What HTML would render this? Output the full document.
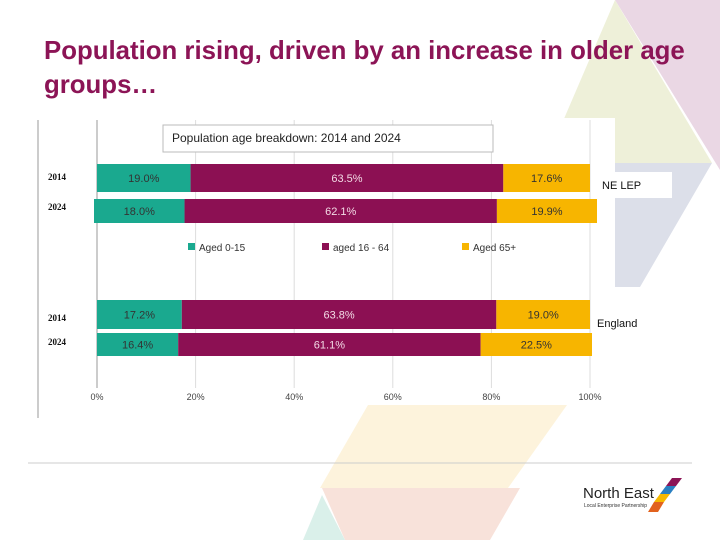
<!DOCTYPE html>
<html><head><meta charset="utf-8">
<style>
body{margin:0;width:720px;height:540px;overflow:hidden;background:#fff;font-family:"Liberation Sans",sans-serif;position:relative}
svg{position:absolute;left:0;top:0}
</style></head>
<body>
<svg width="720" height="540">
  <g>
    <polygon points="615,0 720,0 720,170" fill="#ead7e4"/>
    <polygon points="615,0 712,163 545,163" fill="#eef0d9"/>
    <polygon points="615,163 712,163 640,287 615,287" fill="#dcdfe9"/>
  </g>
  <text x="44" y="59" font-size="25.8" font-weight="bold" fill="#8c1456">Population rising, driven by an increase in older age</text>
  <text x="44" y="93" font-size="25.8" font-weight="bold" fill="#8c1456">groups…</text>
  <rect x="38" y="118" width="577" height="287" fill="#fff"/>
  <g>
    <polygon points="368,405 567,405 508,488 320,488" fill="#fdf3dc"/>
    <polygon points="322,488 520,488 490,540 345,540" fill="#f8e2da"/>
    <polygon points="303,540 322,495 345,540" fill="#daf0ea"/>
  </g>
  <line x1="38" y1="120" x2="38" y2="418" stroke="#999"/>
  <g id="grid"></g>
  <rect x="163" y="125" width="330" height="27" fill="#fff" stroke="#bbb"/>
  <text x="172" y="142" font-size="12" fill="#222">Population age breakdown: 2014 and 2024</text>
  <g id="bars"></g>
  <g id="legend"></g>
  <g id="axis"></g>
  <rect x="596" y="172" width="76" height="26" fill="#fff"/>
  <text x="602" y="189" font-size="11" fill="#111">NE LEP</text>
  <text x="597" y="327" font-size="11" fill="#111">England</text>
  <line x1="28" y1="463" x2="692" y2="463" stroke="#ccc"/>
  <g>
    <text x="583" y="498" font-size="15" fill="#222">North East</text>
    <text x="584" y="507" font-size="5" fill="#333">Local Enterprise Partnership</text>
    <polygon points="672,478 682,478 676,486 666,486" fill="#8c1456"/>
    <polygon points="666,486 676,486 670,494 660,494" fill="#2a7fc1"/>
    <polygon points="660,494 670,494 664,502 654,502" fill="#f6b800"/>
    <polygon points="654,502 664,502 658,512 648,512" fill="#e2621e"/>
  </g>
</svg>
<script>
const categories=["NE LEP 2014","NE LEP 2024","England 2014","England 2024"];
const yearLabels=["2014","2024","2014","2024"];
const aged0to15=[19.0,18.0,17.2,16.4];
const aged16to64=[63.5,62.1,63.8,61.1];
const aged65plus=[17.6,19.9,19.0,22.5];
const seriesNames=["Aged 0-15","aged 16 - 64","Aged 65+"];
const tickValues=[0,20,40,60,80,100];
const tickLabels=["0%","20%","40%","60%","80%","100%"];
const colors=["#1aa98f","#8c1053","#f7b500"];
const NS="http://www.w3.org/2000/svg";
const x0=97,x1=590;
const xs=v=>x0+(x1-x0)*v/100;
const rows=[{y:164,h:28,l:97,r:590},{y:199,h:24,l:94,r:597},{y:300,h:29,l:97,r:590},{y:333,h:23,l:97,r:592}];
const rowLabelY=[180,210,321,345];
function mk(t,a,p){const e=document.createElementNS(NS,t);for(const k in a)e.setAttribute(k,a[k]);p.appendChild(e);return e;}
const grid=document.getElementById('grid'),axis=document.getElementById('axis');
tickValues.forEach((v,i)=>{
  const l=mk('line',{x1:xs(v),x2:xs(v),y1:120,y2:388,stroke:v===0?'#999':'#ddd'},grid);
  
  
  const t=mk('text',{x:xs(v),y:400,'font-size':9,'text-anchor':'middle',fill:'#444'},axis);
  t.textContent=tickLabels[i];
  
  
});
const bars=document.getElementById('bars');
const series=[aged0to15,aged16to64,aged65plus];
categories.forEach((c,i)=>{
  const r=rows[i];const tot=aged0to15[i]+aged16to64[i]+aged65plus[i];
  const sc=v=>r.l+(r.r-r.l)*v/tot;
  let acc=0;
  series.forEach((s,j)=>{
    const a=sc(acc),b=sc(acc+s[i]);acc+=s[i];
    const rect=mk('rect',{x:a,y:r.y,width:b-a,height:r.h,fill:colors[j]},bars);
    
    
    const t=mk('text',{x:(a+b)/2,y:r.y+r.h/2+4,'font-size':11,'text-anchor':'middle',fill:j===1?'#f3dbe6':'#333'},bars);
    t.textContent=s[i].toFixed(1)+'%';
    
    
  });
  const yl=mk('text',{x:48,y:rowLabelY[i],'font-size':9,'font-weight':'bold',fill:'#111','font-family':'Liberation Serif,serif'},bars);
  yl.textContent=yearLabels[i];
  
  
});
const lg=document.getElementById('legend');
const lx=[188,322,462];
seriesNames.forEach((n,i)=>{
  const r=mk('rect',{x:lx[i],y:243,width:7,height:7,fill:colors[i]},lg);
  
  
  const t=mk('text',{x:lx[i]+11,y:251,'font-size':10,fill:'#333'},lg);
  t.textContent=n;
  
  
});
</script>
</body></html>
